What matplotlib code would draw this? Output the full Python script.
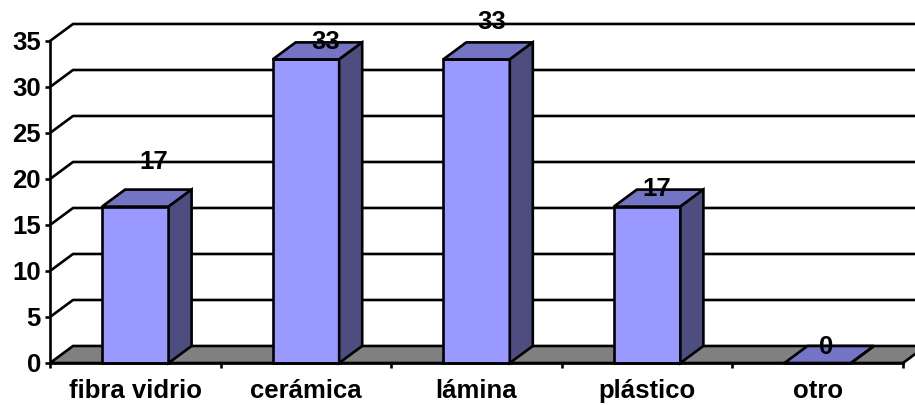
import matplotlib.pyplot as plt
from matplotlib.patches import Polygon

categories = ['fibra vidrio', 'cerámica', 'lámina', 'plástico', 'otro']
values = [17, 33, 33, 17, 0]
y_ticks = [0, 5, 10, 15, 20, 25, 30, 35]

# where each value label sits relative to the top of its bar (pixels, right/up)
label_offsets = [(7, 36), (8, 9), (4, 29), (-2, 9), (-3, 7)]

plt.rcParams['font.family'] = ['Liberation Sans', 'DejaVu Sans']
plt.rcParams['font.weight'] = 'bold'
fs = 18.5

fig = plt.figure(figsize=(9.15, 4.05), dpi=100)
ax = fig.add_axes([50 / 915, 42 / 405, 853 / 915, 322 / 405])
n = len(categories)
ax.set_xlim(0, n)
ax.set_ylim(0, y_ticks[-1])

# depth of the 3-D box in data units
dx = 0.135
dy = 1.85
lw = 1.9
front_c, top_c, side_c = '#9999ff', '#7474c4', '#4d4d80'

# floor
ax.add_patch(Polygon([(0, 0), (n, 0), (n + dx, dy), (dx, dy)], closed=True,
                     fc='#808080', ec='black', lw=lw, clip_on=False, zorder=1))

# gridlines: diagonal on the side wall, then across the back wall
for t in y_ticks[1:]:
    ax.plot([0, dx, n + dx], [t, t + dy, t + dy], color='black', lw=lw,
            clip_on=False, zorder=2, solid_capstyle='butt')

width = 0.39
for i, v in enumerate(values):
    x0 = i + 0.5 - width / 2
    x1 = x0 + width
    faces = [
        ([(x0, 0), (x1, 0), (x1, v), (x0, v)], front_c),
        ([(x0, v), (x1, v), (x1 + dx, v + dy), (x0 + dx, v + dy)], top_c),
        ([(x1, 0), (x1 + dx, dy), (x1 + dx, v + dy), (x1, v)], side_c),
    ]
    for pts, c in faces:
        ax.add_patch(Polygon(pts, closed=True, fc=c, ec='black', lw=lw,
                             joinstyle='miter', clip_on=False, zorder=3))
    ax.annotate(str(v), xy=(i + 0.5 + dx / 2, v + dy / 2),
                xytext=label_offsets[i], textcoords='offset pixels',
                ha='center', va='center', fontsize=fs, fontweight='bold',
                zorder=5, annotation_clip=False)

for s in ['top', 'right']:
    ax.spines[s].set_visible(False)
for s in ['left', 'bottom']:
    ax.spines[s].set_linewidth(lw)
    ax.spines[s].set_zorder(4)

ax.set_yticks(y_ticks)
ax.set_yticklabels([str(t) for t in y_ticks], fontsize=fs, fontweight='bold')
ax.tick_params(axis='y', direction='out', length=3.6, width=lw, pad=3)

ax.set_xticks(range(n + 1))
ax.set_xticklabels([''] * (n + 1))
ax.set_xticks([i + 0.5 for i in range(n)], categories, minor=True)
ax.tick_params(axis='x', which='major', direction='out', length=3.6, width=lw)
ax.tick_params(axis='x', which='minor', length=0, pad=11.5, labelsize=fs)
for lab in ax.get_xticklabels(minor=True):
    lab.set_fontweight('bold')

fig.savefig('out.png', dpi=100)
